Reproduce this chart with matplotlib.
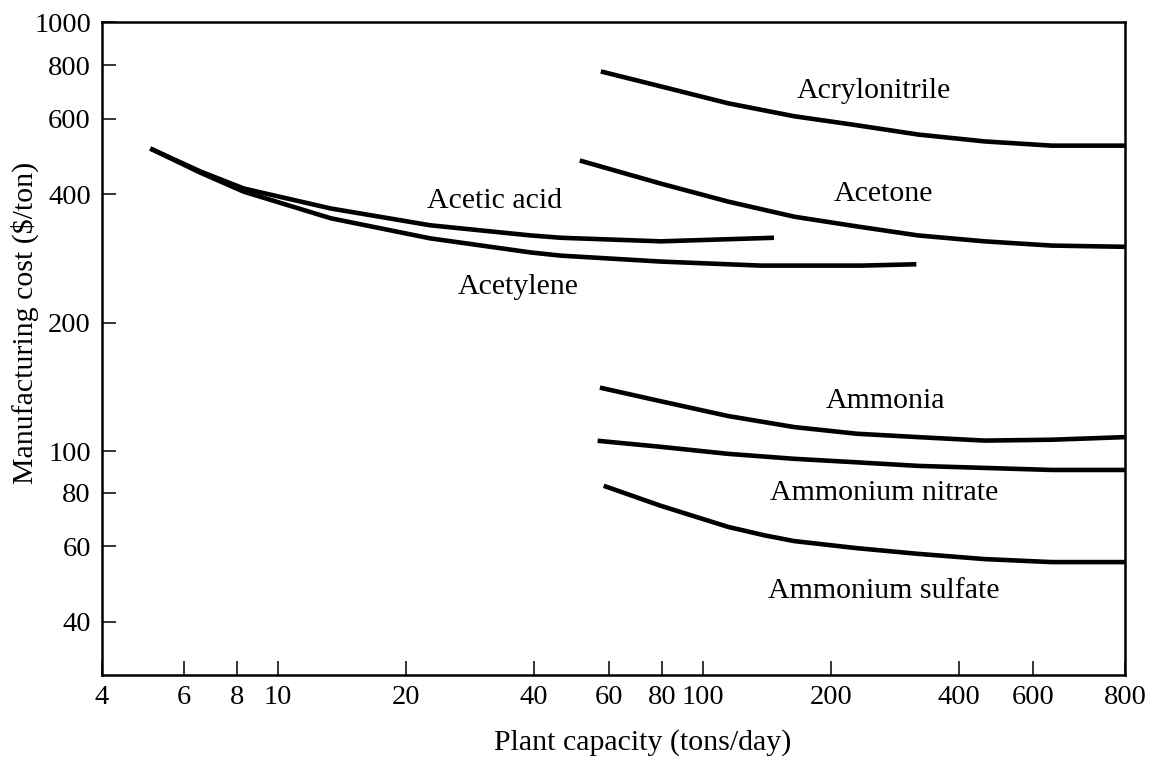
import matplotlib
matplotlib.use("Agg")
import matplotlib.pyplot as plt

plt.rcParams['font.family'] = ['Liberation Serif', 'DejaVu Serif']

# values (plant capacity, tons/day -> $/ton)
acetic_x = [5.0, 6.55, 8.3, 13.3, 22.8, 39.3, 46.3, 79.6, 147]
acetic_y = [511, 452, 412, 370, 338, 320, 316, 310, 316]

acetylene_x = [5.0, 6.55, 8.3, 13.3, 22.8, 39.3, 46.3, 79.6, 137, 236, 318]
acetylene_y = [511, 449, 405, 351, 315, 292, 287, 278, 272, 272, 274]

acrylo_x = [57.5, 79.6, 114.6, 164, 223, 321, 460, 662, 984]
acrylo_y = [774, 714, 652, 608, 582, 551, 531, 519, 519]

acetone_x = [51.3, 79.6, 114.6, 164, 230, 321, 460, 662, 984]
acetone_y = [479, 423, 384, 354, 336, 320, 310, 303, 301]

ammonia_x = [57.2, 79.6, 114.6, 164, 230, 321, 460, 662, 984]
ammonia_y = [141, 131, 121, 114, 110, 108, 106, 106.5, 108]

nitrate_x = [56.5, 79.6, 114.6, 164, 230, 321, 460, 662, 984]
nitrate_y = [105.9, 102.5, 98.7, 96.1, 94.3, 92.5, 91.5, 90.5, 90.5]

sulfate_x = [58.4, 79.6, 114.6, 140, 164, 230, 321, 460, 662, 984]
sulfate_y = [83.1, 74.6, 66.6, 63.6, 61.7, 59.4, 57.6, 56.0, 55.1, 55.1]

labels = ["Acrylonitrile", "Acetone", "Acetic acid", "Acetylene",
          "Ammonia", "Ammonium nitrate", "Ammonium sulfate"]
label_x = [252, 266, 32.3, 36.8, 269, 267, 267]
label_y = [695, 401, 386, 243, 131, 80, 47.2]

x_lo, x_hi = 3.85, 985
y_lo, y_hi = 30, 1010
x_tick_labels = ['4', '6', '8', '10', '20', '40', '60', '80', '100', '200', '400', '600', '800']
x_tick_vals = [x_lo, 6, 8, 10, 20, 40, 60, 80, 100, 200, 400, 600, x_hi]
y_tick_vals = [40, 60, 80, 100, 200, 400, 600, 800, y_hi]
y_tick_labels = ['40', '60', '80', '100', '200', '400', '600', '800', '1000']

fig = plt.figure(figsize=(11.57, 7.59), dpi=100)
ax = fig.add_axes([0.0882, 0.1107, 0.8841, 0.8603])

for xs, ys in [(acetic_x, acetic_y), (acetylene_x, acetylene_y), (acrylo_x, acrylo_y),
               (acetone_x, acetone_y), (ammonia_x, ammonia_y), (nitrate_x, nitrate_y),
               (sulfate_x, sulfate_y)]:
    ax.plot(xs, ys, color='black', lw=3.3, solid_capstyle='butt', solid_joinstyle='round')

for t, x, y in zip(labels, label_x, label_y):
    ax.text(x, y, t, fontsize=21.5, ha='center', va='center')

ax.set_xscale('log')
ax.set_yscale('log')
ax.set_xlim(x_lo, x_hi)
ax.set_ylim(y_lo, y_hi)
ax.set_xticks(x_tick_vals)
ax.set_xticklabels(x_tick_labels)
ax.set_yticks(y_tick_vals)
ax.set_yticklabels(y_tick_labels)
ax.minorticks_off()
ax.tick_params(direction='in', length=10, width=1.1, labelsize=20.5, color='black')
ax.tick_params(axis='x', pad=7)
ax.tick_params(axis='y', pad=8)
for s in ax.spines.values():
    s.set_linewidth(1.8)

ax.set_xlabel('Plant capacity (tons/day)', fontsize=21.5)
ax.xaxis.set_label_coords(0.529, -0.083)
ax.set_ylabel('Manufacturing cost ($/ton)', fontsize=21.5)
ax.yaxis.set_label_coords(-0.062, 0.54)

fig.savefig('out.png', dpi=100)
